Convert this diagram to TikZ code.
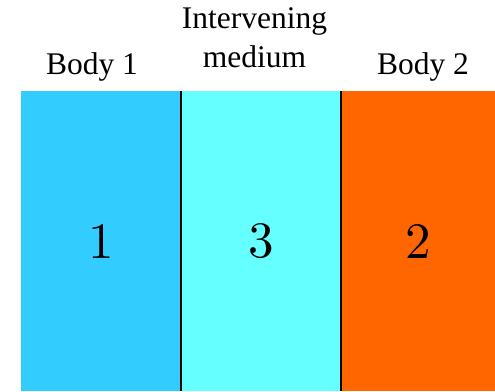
\documentclass[tikz,border=0pt]{standalone}
\usepackage{fontspec}
\setmainfont{Liberation Serif}
\newfontfamily\lmdigits{lmroman10-regular}[Extension=.otf]
\definecolor{bodyone}{HTML}{33CCFF}
\definecolor{medium}{HTML}{66FFFF}
\definecolor{bodytwo}{HTML}{FF6600}
\begin{document}
\begin{tikzpicture}[x=1pt,y=-1pt,
  slab/.style={draw=none, inner sep=0pt, anchor=north west, minimum height=300pt,
    font=\lmdigits\fontsize{51}{51}\selectfont},
  divider/.style={draw=black, line width=2pt},
  lbl/.style={inner sep=0pt, font=\fontsize{31.5}{39}\selectfont}]
\useasboundingbox (0,0) rectangle (495,391);
% the three layers
\node[slab, fill=bodyone, minimum width=160pt] (b1) at (21,91) {1};
\node[slab, fill=medium,  minimum width=160pt] (m3) at (181,91) {3};
\node[slab, fill=bodytwo, minimum width=154pt] (b2) at (341,91) {2};
% interfaces between the layers
\draw[divider] (b1.north east) -- (b1.south east);
\draw[divider] (m3.north east) -- (m3.south east);
% captions
\node[lbl, anchor=base] (t1) at (92,74) {Body 1};
\node[lbl, anchor=south, align=center] (t3) at (254.5,68) {Intervening\\medium};
\node[lbl, anchor=base] (t2) at (423,74) {Body 2};
\end{tikzpicture}
\end{document}
